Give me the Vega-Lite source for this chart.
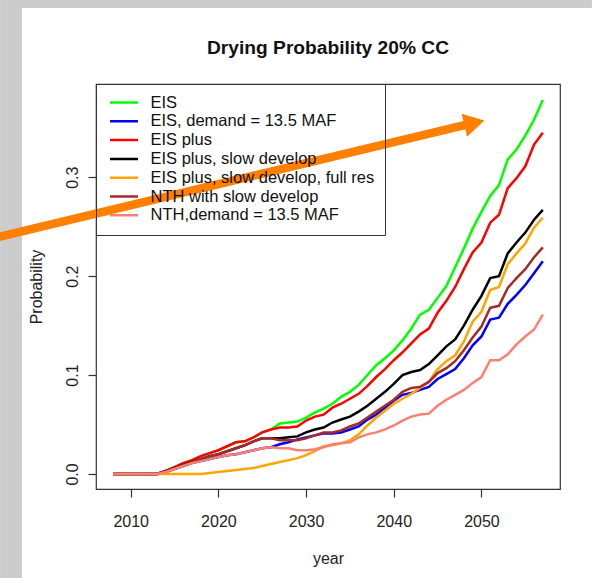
{
  "$schema": "https://vega.github.io/schema/vega-lite/v6.json",
  "width": 464,
  "height": 405,
  "autosize": {"type": "none"},
  "padding": {"left": 96, "top": 84, "right": 32, "bottom": 89},
  "background": "white",
  "title": {"text": "Drying Probability 20% CC", "font": "Liberation Sans", "fontSize": 19.2, "fontWeight": "bold", "color": "#111111", "anchor": "middle", "frame": "group", "baseline": "alphabetic", "offset": 0, "dy": 73},
  "config": {
    "font": "Liberation Sans",
    "view": {"stroke": "#333333", "strokeWidth": 1.2},
    "axis": {"grid": false, "domain": false, "tickColor": "#333333", "tickWidth": 1.2, "labelColor": "#222222", "labelFont": "Liberation Sans", "labelFontSize": 16, "titleFont": "Liberation Sans", "titleFontSize": 16, "titleFontWeight": "normal", "titleColor": "#222222", "zindex": 1},
    "axisX": {"tickSize": 8, "labelPadding": 16, "titlePadding": 21, "labelFlush": false, "labelOverlap": false},
    "axisY": {"tickSize": 8, "labelAngle": 270, "labelAlign": "center", "labelBaseline": "alphabetic", "labelPadding": 11, "titlePadding": 20, "labelFlush": false, "labelOverlap": false}
  },
  "datasets": {
    "names": [
      {"key": "g", "series": "EIS"},
      {"key": "b", "series": "EIS, demand = 13.5 MAF"},
      {"key": "r", "series": "EIS plus"},
      {"key": "k", "series": "EIS plus, slow develop"},
      {"key": "o", "series": "EIS plus, slow develop, full res"},
      {"key": "br", "series": "NTH with slow develop"},
      {"key": "s", "series": "NTH,demand = 13.5 MAF"}
    ],
    "wide": [
      {"year": 2008, "g": 0, "b": 0, "r": 0, "k": 0, "o": 0, "br": 0, "s": 0},
      {"year": 2009, "g": 0, "b": 0, "r": 0, "k": 0, "o": 0, "br": 0, "s": 0},
      {"year": 2010, "g": 0, "b": 0, "r": 0, "k": 0, "o": 0, "br": 0, "s": 0},
      {"year": 2011, "g": 0, "b": 0, "r": 0, "k": 0, "o": 0, "br": 0, "s": 0},
      {"year": 2012, "g": 0, "b": 0, "r": 0, "k": 0, "o": 0, "br": 0, "s": 0},
      {"year": 2013, "g": 0, "b": 0, "r": 0, "k": 0, "o": 0, "br": 0, "s": 0},
      {"year": 2014, "g": 0.003, "b": 0.002, "r": 0.003, "k": 0.003, "o": 0, "br": 0.003, "s": 0.002},
      {"year": 2015, "g": 0.007, "b": 0.005, "r": 0.007, "k": 0.006, "o": 0, "br": 0.006, "s": 0.005},
      {"year": 2016, "g": 0.011, "b": 0.008, "r": 0.011, "k": 0.009, "o": 0, "br": 0.009, "s": 0.008},
      {"year": 2017, "g": 0.014, "b": 0.011, "r": 0.014, "k": 0.012, "o": 0, "br": 0.012, "s": 0.011},
      {"year": 2018, "g": 0.018, "b": 0.013, "r": 0.018, "k": 0.015, "o": 0, "br": 0.015, "s": 0.013},
      {"year": 2019, "g": 0.021, "b": 0.015, "r": 0.021, "k": 0.018, "o": 0.001, "br": 0.018, "s": 0.015},
      {"year": 2020, "g": 0.024, "b": 0.017, "r": 0.024, "k": 0.020, "o": 0.002, "br": 0.020, "s": 0.017},
      {"year": 2021, "g": 0.028, "b": 0.019, "r": 0.028, "k": 0.023, "o": 0.003, "br": 0.023, "s": 0.019},
      {"year": 2022, "g": 0.032, "b": 0.020, "r": 0.032, "k": 0.026, "o": 0.004, "br": 0.026, "s": 0.020},
      {"year": 2023, "g": 0.033, "b": 0.022, "r": 0.033, "k": 0.029, "o": 0.005, "br": 0.029, "s": 0.022},
      {"year": 2024, "g": 0.037, "b": 0.024, "r": 0.037, "k": 0.033, "o": 0.006, "br": 0.033, "s": 0.024},
      {"year": 2025, "g": 0.042, "b": 0.026, "r": 0.042, "k": 0.036, "o": 0.008, "br": 0.036, "s": 0.026},
      {"year": 2026, "g": 0.045, "b": 0.027, "r": 0.045, "k": 0.036, "o": 0.010, "br": 0.036, "s": 0.027},
      {"year": 2027, "g": 0.051, "b": 0.030, "r": 0.047, "k": 0.036, "o": 0.012, "br": 0.034, "s": 0.026},
      {"year": 2028, "g": 0.052, "b": 0.032, "r": 0.047, "k": 0.037, "o": 0.014, "br": 0.034, "s": 0.026},
      {"year": 2029, "g": 0.053, "b": 0.035, "r": 0.048, "k": 0.038, "o": 0.016, "br": 0.034, "s": 0.024},
      {"year": 2030, "g": 0.057, "b": 0.037, "r": 0.054, "k": 0.042, "o": 0.019, "br": 0.036, "s": 0.024},
      {"year": 2031, "g": 0.062, "b": 0.039, "r": 0.058, "k": 0.045, "o": 0.023, "br": 0.039, "s": 0.025},
      {"year": 2032, "g": 0.066, "b": 0.041, "r": 0.060, "k": 0.047, "o": 0.028, "br": 0.042, "s": 0.027},
      {"year": 2033, "g": 0.071, "b": 0.041, "r": 0.067, "k": 0.052, "o": 0.029, "br": 0.042, "s": 0.030},
      {"year": 2034, "g": 0.078, "b": 0.042, "r": 0.071, "k": 0.055, "o": 0.031, "br": 0.044, "s": 0.031},
      {"year": 2035, "g": 0.083, "b": 0.045, "r": 0.076, "k": 0.058, "o": 0.034, "br": 0.048, "s": 0.032},
      {"year": 2036, "g": 0.090, "b": 0.048, "r": 0.081, "k": 0.063, "o": 0.040, "br": 0.051, "s": 0.037},
      {"year": 2037, "g": 0.100, "b": 0.055, "r": 0.089, "k": 0.069, "o": 0.049, "br": 0.057, "s": 0.040},
      {"year": 2038, "g": 0.110, "b": 0.060, "r": 0.098, "k": 0.076, "o": 0.057, "br": 0.063, "s": 0.042},
      {"year": 2039, "g": 0.117, "b": 0.067, "r": 0.106, "k": 0.083, "o": 0.064, "br": 0.069, "s": 0.045},
      {"year": 2040, "g": 0.125, "b": 0.074, "r": 0.115, "k": 0.091, "o": 0.071, "br": 0.075, "s": 0.049},
      {"year": 2041, "g": 0.135, "b": 0.080, "r": 0.123, "k": 0.100, "o": 0.076, "br": 0.083, "s": 0.054},
      {"year": 2042, "g": 0.147, "b": 0.082, "r": 0.132, "k": 0.103, "o": 0.081, "br": 0.087, "s": 0.058},
      {"year": 2043, "g": 0.161, "b": 0.085, "r": 0.141, "k": 0.105, "o": 0.087, "br": 0.088, "s": 0.060},
      {"year": 2044, "g": 0.166, "b": 0.088, "r": 0.147, "k": 0.111, "o": 0.093, "br": 0.093, "s": 0.061},
      {"year": 2045, "g": 0.178, "b": 0.096, "r": 0.163, "k": 0.120, "o": 0.106, "br": 0.102, "s": 0.069},
      {"year": 2046, "g": 0.190, "b": 0.101, "r": 0.175, "k": 0.129, "o": 0.114, "br": 0.107, "s": 0.075},
      {"year": 2047, "g": 0.209, "b": 0.106, "r": 0.189, "k": 0.136, "o": 0.120, "br": 0.114, "s": 0.080},
      {"year": 2048, "g": 0.228, "b": 0.117, "r": 0.207, "k": 0.150, "o": 0.134, "br": 0.125, "s": 0.085},
      {"year": 2049, "g": 0.248, "b": 0.130, "r": 0.224, "k": 0.166, "o": 0.154, "br": 0.138, "s": 0.092},
      {"year": 2050, "g": 0.265, "b": 0.139, "r": 0.234, "k": 0.180, "o": 0.164, "br": 0.149, "s": 0.098},
      {"year": 2051, "g": 0.281, "b": 0.156, "r": 0.254, "k": 0.198, "o": 0.186, "br": 0.168, "s": 0.115},
      {"year": 2052, "g": 0.292, "b": 0.158, "r": 0.262, "k": 0.200, "o": 0.189, "br": 0.170, "s": 0.115},
      {"year": 2053, "g": 0.318, "b": 0.172, "r": 0.289, "k": 0.223, "o": 0.212, "br": 0.188, "s": 0.121},
      {"year": 2054, "g": 0.328, "b": 0.181, "r": 0.299, "k": 0.234, "o": 0.223, "br": 0.198, "s": 0.131},
      {"year": 2055, "g": 0.342, "b": 0.191, "r": 0.311, "k": 0.244, "o": 0.233, "br": 0.207, "s": 0.139},
      {"year": 2056, "g": 0.358, "b": 0.203, "r": 0.333, "k": 0.257, "o": 0.249, "br": 0.219, "s": 0.146},
      {"year": 2057, "g": 0.378, "b": 0.215, "r": 0.345, "k": 0.267, "o": 0.259, "br": 0.229, "s": 0.161}
    ]
  },
  "layer": [
    {
      "data": {"values": [{}]},
      "mark": {"type": "rect", "fill": "#cccccc", "clip": false},
      "encoding": {
        "x": {"datum": 1995.1, "type": "quantitative", "title": "year", "scale": {"domain": [2006.04, 2058.96], "nice": false, "zero": false}},
        "x2": {"datum": 1997.6},
        "y": {"datum": 0.4791, "type": "quantitative", "title": "Probability", "scale": {"domain": [-0.0152, 0.3942], "nice": false, "zero": false}},
        "y2": {"datum": -0.1052}
      }
    },
    {
      "data": {"values": [{}]},
      "mark": {"type": "rect", "fill": "#cccccc", "clip": false},
      "encoding": {
        "x": {"datum": 1997.6, "type": "quantitative", "title": "year", "scale": {"domain": [2006.04, 2058.96], "nice": false, "zero": false}},
        "x2": {"datum": 2062.6},
        "y": {"datum": 0.471, "type": "quantitative", "title": "Probability", "scale": {"domain": [-0.0152, 0.3942], "nice": false, "zero": false}},
        "y2": {"datum": 0.4791}
      }
    },
    {
      "data": {"name": "wide"},
      "transform": [
        {"fold": ["g", "b", "r", "k", "o", "br", "s"], "as": ["key", "p"]},
        {"lookup": "key", "from": {"data": {"name": "names"}, "key": "key", "fields": ["series"]}}
      ],
      "mark": {"type": "line", "strokeWidth": 2.5, "clip": true},
      "encoding": {
        "x": {"field": "year", "type": "quantitative", "title": "year", "scale": {"domain": [2006.04, 2058.96], "nice": false, "zero": false}, "axis": {"values": [2010, 2020, 2030, 2040, 2050], "format": "d"}},
        "y": {"field": "p", "type": "quantitative", "title": "Probability", "scale": {"domain": [-0.0152, 0.3942], "nice": false, "zero": false}, "axis": {"values": [0, 0.1, 0.2, 0.3], "format": ".1f"}},
        "color": {
          "field": "series",
          "type": "nominal",
          "scale": {
            "domain": ["EIS", "EIS, demand = 13.5 MAF", "EIS plus", "EIS plus, slow develop", "EIS plus, slow develop, full res", "NTH with slow develop", "NTH,demand = 13.5 MAF"],
            "range": ["#00FF00", "#0000FF", "#FF0000", "#000000", "#FFA500", "#A52A2A", "#FA8072"]
          },
          "legend": {
            "orient": "none", "legendX": 0, "legendY": 0, "title": null,
            "symbolType": "stroke", "symbolSize": 784, "symbolStrokeWidth": 2.5,
            "labelFont": "Liberation Sans", "labelFontSize": 16.5, "labelColor": "#111111", "labelLimit": 400,
            "strokeColor": "#333333", "fillColor": null, "padding": 10.5, "rowPadding": 1.8, "clipHeight": 16,
            "labelOffset": 11, "symbolOffset": 2
          }
        }
      }
    },
    {
      "data": {"values": [{}]},
      "mark": {"type": "rule", "color": "#FF8000", "strokeWidth": 8.5, "strokeCap": "butt", "clip": false},
      "encoding": {
        "x": {"datum": 1993.95, "type": "quantitative", "title": "year", "scale": {"domain": [2006.04, 2058.96], "nice": false, "zero": false}},
        "x2": {"datum": 2048.9},
        "y": {"datum": 0.2375, "type": "quantitative", "title": "Probability", "scale": {"domain": [-0.0152, 0.3942], "nice": false, "zero": false}},
        "y2": {"datum": 0.3545}
      }
    },
    {
      "data": {"values": [{}]},
      "mark": {"type": "point", "shape": "triangle-right", "filled": true, "color": "#FF8000", "opacity": 1, "size": 560, "angle": 346.5, "clip": false},
      "encoding": {
        "x": {"datum": 2049.19, "type": "quantitative", "title": "year", "scale": {"domain": [2006.04, 2058.96], "nice": false, "zero": false}},
        "y": {"datum": 0.355, "type": "quantitative", "title": "Probability", "scale": {"domain": [-0.0152, 0.3942], "nice": false, "zero": false}}
      }
    }
  ]
}
